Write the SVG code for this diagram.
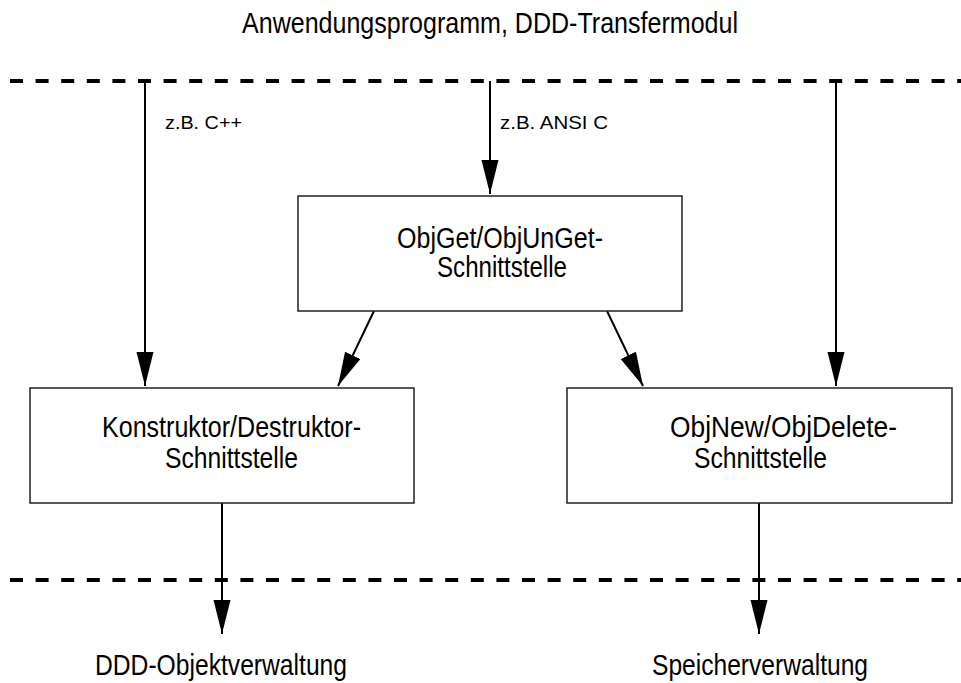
<svg xmlns="http://www.w3.org/2000/svg" width="961" height="683" viewBox="0 0 961 683">
  <style>
    text { font-family: "Liberation Sans Narrow", "Arial Narrow", "Liberation Sans", sans-serif; fill: #000; }
    .big { font-size: 29px; }
    .small { font-size: 19px; }
    .layer { stroke: #000; stroke-width: 4; stroke-dasharray: 13 12.6; fill: none; }
    .box { fill: #fff; stroke: #222; stroke-width: 1.5; }
    .edge { stroke: #000; stroke-width: 2; fill: none; marker-end: url(#head); }
  </style>
  <defs>
    <marker id="head" markerUnits="userSpaceOnUse" markerWidth="36" markerHeight="18" refX="34" refY="8.5" orient="auto">
      <path d="M0,0 L34,8.5 L0,17 Z" fill="#000"/>
    </marker>
  </defs>
  <rect width="961" height="683" fill="#fff"/>

  <!-- layer labels -->
  <text class="big" x="242" y="33" textLength="496" lengthAdjust="spacingAndGlyphs">Anwendungsprogramm, DDD-Transfermodul</text>
  <text class="big" x="95" y="675" textLength="252" lengthAdjust="spacingAndGlyphs">DDD-Objektverwaltung</text>
  <text class="big" x="652" y="675" textLength="216" lengthAdjust="spacingAndGlyphs">Speicherverwaltung</text>

  <!-- layer boundaries -->
  <line class="layer" x1="10" y1="81" x2="961" y2="81"/>
  <line class="layer" x1="10" y1="580" x2="961" y2="580"/>

  <!-- connectors -->
  <g id="connectors">
    <line class="edge" x1="145" y1="81" x2="145" y2="386"/>
    <line class="edge" x1="490" y1="81" x2="490" y2="194"/>
    <line class="edge" x1="836" y1="81" x2="836" y2="386"/>
    <line class="edge" x1="374" y1="311" x2="338" y2="386"/>
    <line class="edge" x1="607" y1="311" x2="643" y2="386"/>
    <line class="edge" x1="222" y1="503" x2="222" y2="634"/>
    <line class="edge" x1="759" y1="503" x2="759" y2="634"/>
    <text class="small" x="165" y="129" textLength="77" lengthAdjust="spacingAndGlyphs">z.B. C++</text>
    <text class="small" x="500" y="129" textLength="108" lengthAdjust="spacingAndGlyphs">z.B. ANSI C</text>
  </g>

  <!-- nodes -->
  <g id="objget">
    <rect class="box" x="298" y="196" width="384" height="115"/>
    <text class="big" x="397" y="248" textLength="206" lengthAdjust="spacingAndGlyphs">ObjGet/ObjUnGet-</text>
    <text class="big" x="437" y="277" textLength="130" lengthAdjust="spacingAndGlyphs">Schnittstelle</text>
  </g>
  <g id="konstruktor">
    <rect class="box" x="30" y="388" width="384" height="115"/>
    <text class="big" x="102" y="437" textLength="259" lengthAdjust="spacingAndGlyphs">Konstruktor/Destruktor-</text>
    <text class="big" x="165" y="468" textLength="133" lengthAdjust="spacingAndGlyphs">Schnittstelle</text>
  </g>
  <g id="objnew">
    <rect class="box" x="567" y="388" width="385" height="115"/>
    <text class="big" x="670" y="437" textLength="227" lengthAdjust="spacingAndGlyphs">ObjNew/ObjDelete-</text>
    <text class="big" x="694" y="468" textLength="133" lengthAdjust="spacingAndGlyphs">Schnittstelle</text>
  </g>
</svg>
